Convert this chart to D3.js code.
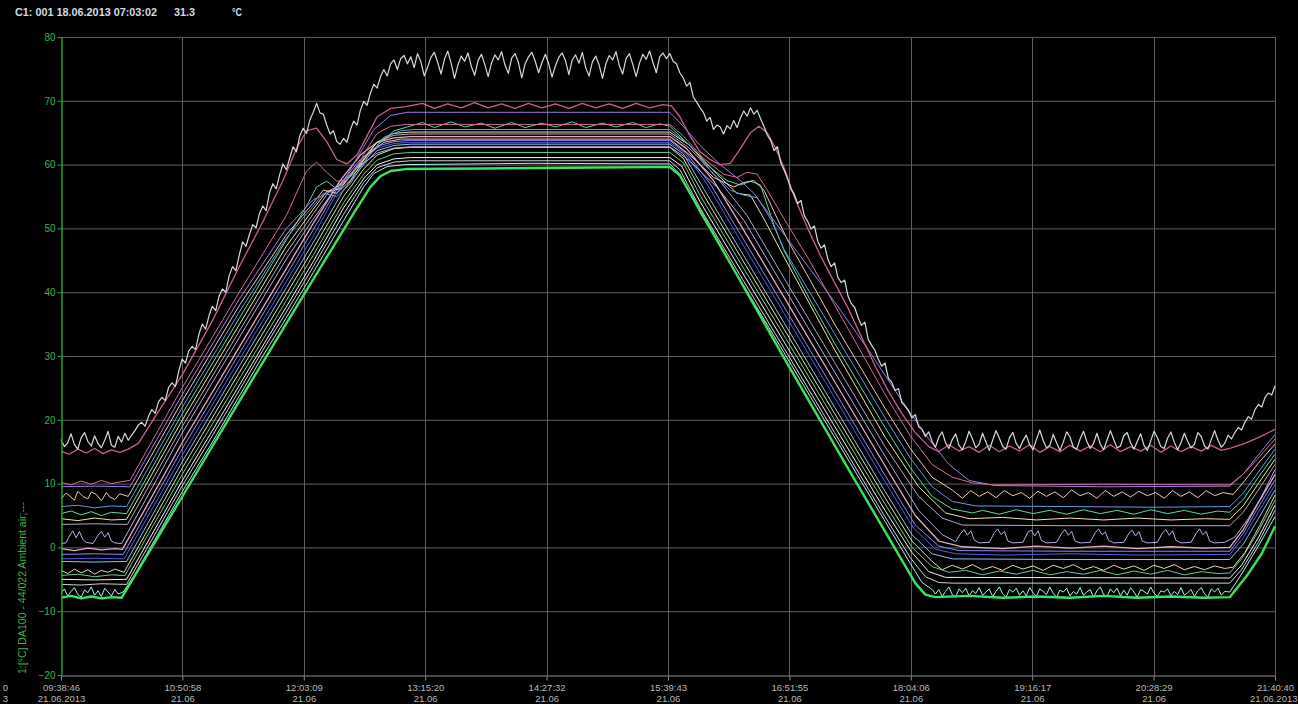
<!DOCTYPE html>
<html><head><meta charset="utf-8">
<script src="https://cdn.jsdelivr.net/npm/d3@7/dist/d3.min.js"></script>
<style>html,body{margin:0;padding:0;background:#000;overflow:hidden}</style>
</head><body>
<script>
// ---------- DATA ----------
const headerParts = ["C1: 001 18.06.2013 07:03:02", "31.3", "°C"];
const yAxisTitle = "1:[°C] DA100 - 44/022 Ambient air;---";
const tickLabels = ["09:38:46","10:50:58","12:03:09","13:15:20","14:27:32","15:39:43","16:51:55","18:04:06","19:16:17","20:28:29","21:40:40"];
const tickDates = ["21.06.2013","21.06","21.06","21.06","21.06","21.06","21.06","21.06","21.06","21.06","21.06.2013"];
const yTicks = [-20,-10,0,10,20,30,40,50,60,70,80];
const totalMinutes = 721.9; // 09:38:46 -> 21:40:40
// each series: [minutes since 09:38:46, °C]
const ambientGreen = [[0,-7.9],[6,-7.6],[12,-8.0],[18,-7.7],[24,-8.0],[30,-7.8],[36,-7.9],[72,7.9],[106,22.9],[140,37.7],[175,52.8],[184,56.5],[190,58.2],[196,59.0],[205,59.3],[250,59.4],[300,59.5],[350,59.6],[362,59.6],[368,58.3],[400,43.6],[433,28.3],[470,11.5],[500,-2.0],[508,-5.6],[514,-7.4],[520,-7.8],[540,-7.6],[560,-7.9],[580,-7.7],[600,-7.9],[620,-7.6],[640,-7.9],[660,-7.7],[680,-7.9],[695,-7.8],[705,-4.5],[714,-1.0],[721.9,3.3]];
const cyanProbe = [[0,-7.2],[2,-6.5],[4,-7.6],[6,-6.9],[8,-6.3],[10,-7.4],[12,-7.8],[14,-6.7],[16,-7.1],[18,-6.2],[20,-7.5],[22,-6.8],[24,-7.7],[26,-6.4],[28,-7.0],[30,-7.6],[32,-6.6],[34,-7.3],[37,-7.0],[44,-4.2],[58,2.2],[72,8.7],[90,16.5],[106,23.7],[120,30],[134,36],[150,43.1],[168,51.2],[180,56.5],[186,58.6],[194,59.7],[205,60.0],[280,60.2],[362,60.1],[368,58.5],[380,52.5],[404,41.9],[430,30.5],[460,17.3],[490,4.1],[505,-2.5],[512,-5.5],[518,-6.6],[520,-7.3],[522,-6.6],[524,-7.7],[526,-6.9],[528,-6.2],[530,-7.4],[532,-7.8],[534,-6.5],[536,-7.1],[538,-6.4],[540,-7.6],[542,-6.8],[544,-7.2],[546,-6.3],[548,-7.5],[550,-7.0],[552,-6.5],[554,-7.7],[556,-6.9],[558,-6.2],[560,-7.3],[562,-7.8],[564,-6.6],[566,-7.0],[568,-6.4],[570,-7.5],[572,-6.8],[574,-7.6],[576,-6.3],[578,-7.1],[580,-7.7],[582,-6.5],[584,-6.9],[586,-7.4],[588,-6.2],[590,-7.2],[592,-7.8],[594,-6.7],[596,-7.0],[598,-6.4],[600,-7.6],[602,-6.9],[604,-7.3],[606,-6.3],[608,-7.5],[610,-7.0],[612,-6.6],[614,-7.8],[616,-6.8],[618,-6.2],[620,-7.4],[622,-7.7],[624,-6.5],[626,-7.1],[628,-6.4],[630,-7.6],[632,-6.7],[634,-7.5],[636,-6.3],[638,-7.0],[640,-7.8],[642,-6.6],[644,-6.9],[646,-7.3],[648,-6.2],[650,-7.2],[652,-7.7],[654,-6.8],[656,-7.0],[658,-6.5],[660,-7.6],[662,-6.9],[664,-7.4],[666,-6.3],[668,-7.5],[670,-7.1],[672,-6.6],[674,-7.7],[676,-6.8],[678,-6.3],[680,-7.3],[682,-7.8],[684,-6.5],[686,-7.0],[688,-6.4],[690,-7.5],[692,-6.9],[695,-7.0],[702,-4.2],[712,0.2],[721.9,4.8]];
const probeGrey = [[0,-5.8],[12,-5.9],[24,-5.7],[39,-5.8],[72,9.6],[90,17.5],[106,24.6],[120,30.9],[134,36.9],[150,44],[168,52.2],[180,57.2],[188,59.5],[198,60.4],[208,60.6],[362,60.6],[368,59.2],[380,53.2],[404,42.6],[430,31.2],[460,18],[490,4.8],[505,-1.6],[514,-4.6],[522,-5.5],[530,-5.6],[695,-5.6],[702,-3.5],[712,0.8],[721.9,5.8]];
const probeWhite = [[0,-5.0],[20,-5.1],[39,-5.0],[72,10.4],[90,18.3],[106,25.4],[120,31.6],[134,37.7],[150,44.8],[168,53.2],[180,57.8],[188,60],[198,60.9],[208,61.1],[362,61.1],[369,59.8],[380,54.2],[404,43.6],[430,32.2],[460,19],[490,5.8],[506,-0.8],[516,-3.8],[526,-4.7],[695,-4.8],[702,-2.8],[712,1.5],[721.9,6.6]];
const probeGreen = [[0,-4.4],[10,-4.2],[20,-4.6],[30,-4.3],[38,-4.4],[72,11.4],[106,26.4],[134,38.7],[150,45.8],[168,54],[180,58.5],[188,60.7],[198,61.7],[208,61.9],[362,61.9],[370,60.3],[380,55.2],[404,44.6],[430,33.2],[460,20],[490,6.8],[506,0],[518,-3],[528,-3.9],[538,-3.6],[548,-4.3],[558,-3.7],[568,-4.2],[578,-3.6],[588,-4.3],[598,-3.8],[608,-4.2],[618,-3.6],[628,-4.3],[638,-3.7],[648,-4.2],[658,-3.6],[668,-4.3],[678,-3.8],[688,-4.1],[695,-4.0],[702,-1.8],[712,2.5],[721.9,7.4]];
const probeCream = [[0,-3.6],[4,-4.1],[8,-3.4],[12,-4.0],[16,-3.5],[20,-4.2],[24,-3.6],[28,-3.9],[32,-3.4],[37.5,-3.9],[72,12.4],[106,27.4],[134,39.7],[150,46.8],[168,55],[180,59.3],[188,61.5],[198,62.5],[208,62.7],[362,62.7],[370,61],[382,55.3],[404,45.6],[430,34.2],[460,21],[490,7.8],[506,1],[518,-2.2],[524,-3.5],[530,-2.8],[536,-3.4],[542,-2.7],[548,-3.5],[554,-3.0],[560,-3.6],[566,-2.8],[572,-3.4],[578,-2.9],[584,-3.6],[590,-2.8],[596,-3.3],[602,-2.7],[608,-3.5],[614,-3.0],[620,-3.6],[626,-2.8],[632,-3.4],[638,-2.9],[644,-3.6],[650,-2.8],[656,-3.3],[662,-2.7],[668,-3.5],[674,-3.0],[680,-3.5],[686,-2.9],[692,-3.3],[697,-3.1],[704,-0.8],[713,3.5],[721.9,8.2]];
const probeSky = [[0,-2.2],[20,-2.3],[39,-2.2],[72,13.4],[106,28.4],[134,40.7],[150,47.8],[168,56],[180,60],[188,62.2],[198,63.0],[208,63.2],[362,63.2],[370,61.7],[382,56.3],[404,46.6],[430,35.2],[460,22],[490,8.8],[506,2],[518,-1],[530,-1.8],[600,-1.9],[695,-1.9],[703,0.5],[712,4.5],[721.9,9.0]];
const probeBlue = [[0,-1.8],[20,-1.7],[37.5,-1.8],[72,14.4],[106,29.4],[134,41.7],[150,48.8],[166,56.5],[178,60.3],[188,62.6],[198,63.3],[208,63.5],[362,63.5],[371,61.8],[384,57],[404,48.1],[430,36.7],[460,23.5],[490,10.3],[507,3],[520,-0.3],[532,-1.0],[560,-1.2],[600,-1.0],[640,-1.2],[695,-1.1],[703,1.5],[712,5.5],[721.9,9.8]];
const probeLilac = [[0,-1.1],[20,-1.0],[37,-1.1],[72,15.4],[106,30.4],[134,42.7],[150,49.8],[166,57],[178,60.8],[188,62.9],[198,63.6],[208,63.8],[362,63.8],[372,61.8],[386,57],[404,49.1],[430,37.7],[460,24.5],[490,11.3],[508,3.5],[522,0.2],[534,-0.5],[600,-0.6],[695,-0.6],[703,2.2],[712,6.3],[721.9,10.6]];
const probeRose = [[0,-0.2],[8,-0.5],[16,-0.1],[24,-0.4],[32,-0.2],[36.5,-0.3],[72,16.4],[106,31.4],[134,43.7],[150,50.8],[166,57.5],[178,61.5],[188,63.5],[198,64.2],[208,64.4],[362,64.4],[372,62.5],[388,57.5],[404,50.6],[430,39.2],[460,26],[490,12.8],[508,5],[522,1],[536,0.1],[560,-0.2],[580,0.2],[600,-0.1],[620,0.2],[640,-0.2],[660,0.1],[680,-0.1],[695,0.0],[703,2.8],[712,7],[721.9,11.4]];
const probeLavender = [[0,0.6],[3,0.7],[5,1.8],[7,2.6],[9,1.5],[11,2.5],[13,1.2],[15,0.8],[19,0.6],[22,1.9],[24,2.5],[26,1.6],[28,2.3],[30,1.0],[32,0.7],[36,0.6],[72,17.9],[106,32.9],[134,45.2],[150,51.5],[164,56.5],[176,59.5],[188,61.8],[198,62.6],[208,62.8],[362,62.8],[372,61],[390,56.5],[406,51.3],[430,40.7],[460,27.5],[490,14.3],[510,5.8],[524,2],[532,0.9],[535,2.2],[537,2.8],[539,1.9],[541,2.6],[543,1.2],[546,0.7],[552,0.8],[555,2.3],[557,2.9],[559,2.0],[561,2.5],[563,1.0],[566,0.7],[572,0.8],[575,2.4],[577,2.7],[579,1.8],[581,2.6],[583,1.1],[586,0.7],[592,0.8],[595,2.2],[597,2.8],[599,1.9],[601,2.5],[603,1.0],[606,0.7],[612,0.8],[615,2.3],[617,2.9],[619,2.0],[621,2.4],[623,1.1],[626,0.7],[632,0.8],[635,2.2],[637,2.7],[639,1.8],[641,2.5],[643,1.0],[646,0.7],[652,0.8],[655,2.3],[657,2.8],[659,1.9],[661,2.6],[663,1.1],[666,0.7],[672,0.8],[675,2.2],[677,2.9],[679,2.0],[681,2.5],[683,1.0],[686,0.7],[692,0.8],[698,1.6],[706,4.5],[714,8],[721.9,12.2]];
const probeMauve = [[0,3.6],[20,3.7],[39.5,3.6],[72,18.9],[106,33.9],[134,46.2],[150,52.3],[160,56],[168,57],[178,60.5],[188,63.5],[198,64.6],[208,64.8],[362,64.8],[374,62.5],[390,58],[408,52],[430,42.2],[460,29],[490,15.8],[510,8],[524,4.6],[536,3.5],[600,3.4],[695,3.4],[703,5.5],[712,9],[721.9,13.0]];
const probeYellow = [[0,4.5],[10,4.2],[20,4.6],[30,4.3],[39,4.4],[72,19.9],[106,34.9],[134,47.2],[150,53],[158,55.8],[166,56.2],[176,59.5],[188,63.5],[198,64.9],[208,65.1],[362,65.1],[374,63],[390,58.5],[402,55.5],[410,55.2],[418,51.5],[430,45.5],[460,31],[490,17.3],[510,9.5],[526,5.4],[540,4.5],[560,4.7],[580,4.3],[600,4.6],[620,4.3],[640,4.6],[660,4.3],[680,4.5],[695,4.4],[703,6.5],[712,10],[721.9,13.8]];
const probeMint = [[0,5.3],[6,5.7],[12,5.1],[18,5.6],[24,5.0],[30,5.5],[39,5.3],[72,20.9],[106,35.9],[134,48.2],[146,53.5],[152,56.5],[158,57.4],[163,56.4],[168,57.2],[176,59],[188,63],[198,65.3],[206,65.9],[215,66.6],[222,65.8],[232,66.7],[240,65.9],[250,66.5],[258,65.7],[268,66.6],[276,65.8],[286,66.5],[294,65.9],[304,66.7],[312,65.8],[322,66.5],[330,65.9],[340,66.6],[348,65.8],[356,66.4],[362,66.0],[372,63.5],[384,60],[396,57.5],[404,56.8],[410,57.4],[416,56.8],[424,50.5],[430,46.5],[445,39],[460,32],[475,25.4],[490,18.8],[505,12.5],[518,8],[530,6],[542,5.4],[548,5.8],[558,5.2],[568,5.9],[578,5.3],[588,5.8],[598,5.2],[608,5.9],[618,5.3],[628,5.8],[638,5.2],[648,5.9],[658,5.3],[668,5.8],[678,5.2],[688,5.7],[695,5.5],[703,7.5],[712,11],[721.9,14.6]];
const probeSteel = [[0,6.4],[10,6.6],[20,6.2],[30,6.5],[39,6.4],[72,21.9],[106,36.9],[134,48.5],[150,53.5],[156,55.5],[164,55],[172,57],[182,61],[192,64.3],[202,65.3],[210,65.5],[362,65.5],[374,63],[388,58.5],[398,56],[406,55.2],[414,54.8],[422,51.5],[430,46.7],[445,40.1],[460,33.5],[475,26.9],[490,20.3],[505,14],[518,9.5],[530,7.2],[544,6.5],[600,6.4],[650,6.3],[695,6.4],[703,8.5],[712,11.8],[721.9,15.4]];
const probeSalmon = [[0,7.6],[3,8.5],[5,8.1],[8,7.4],[10,8.8],[13,8.0],[16,7.6],[18,8.7],[21,8.3],[24,7.3],[27,8.6],[29,7.9],[32,7.5],[35,8.4],[40,8.0],[72,22.9],[106,37.9],[134,49],[150,54],[156,56],[164,55.5],[172,57.5],[182,61.5],[192,63.5],[202,64],[362,64],[374,61.5],[388,58],[400,56.5],[406,57.2],[412,57.5],[418,56],[426,51.5],[432,48.2],[445,42.1],[460,35],[475,28.4],[490,21.8],[505,15.5],[518,11],[530,9],[536,7.7],[541,8.9],[546,8.0],[551,8.7],[556,7.8],[561,8.9],[566,8.1],[571,8.6],[576,7.7],[581,8.8],[586,8.0],[591,8.7],[596,7.8],[601,9.0],[606,8.1],[611,8.6],[616,7.7],[621,8.9],[626,8.0],[631,8.7],[636,7.9],[641,8.8],[646,8.1],[651,8.6],[656,7.7],[661,8.9],[666,8.0],[671,8.7],[676,7.8],[681,8.9],[686,8.1],[691,8.6],[697,8.3],[704,10.5],[712,13.2],[721.9,16.2]];
const probePurple = [[0,9.5],[20,9.6],[41,9.5],[72,23.9],[106,38.9],[134,50],[150,54.5],[158,55.5],[166,56.5],[176,61],[186,65.5],[196,67.7],[206,68.2],[362,68.2],[370,66],[380,63],[392,60],[404,57.5],[412,55.5],[433,48],[460,38.5],[480,31],[500,23],[516,17],[528,13],[540,10.5],[555,9.7],[620,9.5],[695,9.6],[703,11.5],[712,14.5],[721.9,17.7]];
const probeCrimson = [[0,10.2],[6,9.8],[12,10.4],[18,9.9],[24,10.5],[30,10.0],[36,10.3],[41,10.5],[72,25],[106,40],[134,52],[146,59],[152,60.4],[158,58.8],[164,57.4],[170,57.6],[176,59.6],[182,62.5],[188,64.9],[196,66],[205,66.3],[362,66.3],[370,64.5],[382,61],[394,58.5],[402,58],[408,58.8],[414,58.5],[420,56],[430,51.5],[445,45],[460,38],[475,31],[490,24],[505,17.5],[518,13],[530,11],[542,10.1],[555,9.8],[620,9.9],[695,9.8],[703,11.5],[712,14],[721.9,17]];
const probePink = [[0,15.1],[5,14.6],[10,15.4],[15,14.8],[20,15.5],[25,14.7],[30,15.3],[35,14.9],[40,15.4],[46,16.3],[56,20.5],[72,27],[90,35.5],[106,44],[120,51],[132,57.5],[140,62.5],[146,65.3],[152,65.7],[158,63.6],[164,60.8],[170,60.1],[176,61.5],[182,64.5],[188,67.5],[196,68.8],[205,69.1],[215,69.6],[222,68.8],[230,69.5],[238,68.9],[246,69.7],[254,68.9],[262,69.5],[270,68.8],[278,69.6],[286,68.9],[294,69.5],[302,68.8],[310,69.6],[318,68.9],[326,69.5],[334,68.8],[342,69.6],[350,68.9],[358,69.4],[363,69.2],[368,67.5],[374,64.5],[380,62],[386,60.8],[392,60.0],[398,60.2],[404,62.5],[410,65],[415,66],[420,65],[425,62.5],[430,59.5],[436,55],[444,50],[452,45.5],[460,41.5],[468,37.5],[476,33],[484,28.5],[492,24.5],[500,21],[508,18],[516,15.8],[522,15.0],[528,16.1],[534,15.1],[540,15.8],[546,14.9],[552,16.0],[558,15.0],[564,15.9],[570,15.1],[576,16.1],[582,14.9],[588,15.8],[594,15.0],[600,16.0],[606,15.1],[612,15.9],[618,15.0],[624,16.1],[630,15.0],[636,15.8],[642,15.1],[648,16.0],[654,14.9],[660,15.9],[666,15.0],[672,15.8],[678,15.1],[684,16.0],[690,15.2],[696,15.6],[704,16.3],[712,17.2],[721.9,18.5]];
const probeTop = [[0,16.9],[2,15.8],[4,16.4],[6,17.8],[8,16.1],[10,15.4],[12,17.2],[14,18.0],[16,16.6],[18,15.9],[20,17.5],[22,16.3],[24,15.6],[26,16.8],[28,18.2],[30,16.0],[32,15.7],[34,17.4],[36,16.5],[38,17.9],[40,16.8],[42,17.6],[44,18.3],[46,19.2],[48,19.6],[50,19.0],[52,20.5],[54,21.6],[56,21.0],[58,22.8],[60,23.5],[62,23.0],[64,25.1],[66,25.8],[68,25.2],[70,27.6],[72,29.5],[74,28.9],[76,30.8],[78,31.5],[80,31.0],[82,33.4],[84,35.0],[86,34.2],[88,36.3],[90,37.8],[92,37.1],[94,39.4],[96,40.5],[98,40.0],[100,42.6],[102,44.0],[104,43.4],[106,45.8],[108,47.9],[110,47.2],[112,49.0],[114,50.6],[116,50.1],[118,52.3],[120,53.5],[122,52.8],[124,55.6],[126,57.0],[128,56.2],[130,58.4],[132,60.1],[134,59.2],[136,61.0],[138,62.8],[140,62.0],[142,64.5],[144,65.7],[146,64.9],[148,67.0],[150,68.2],[152,69.6],[154,68.1],[156,67.9],[158,66.2],[160,64.8],[162,65.3],[164,63.6],[166,63.2],[168,64.1],[170,63.5],[172,65.4],[174,66.8],[176,66.2],[178,68.5],[180,69.9],[182,69.3],[184,71.2],[186,72.6],[188,72.0],[190,73.8],[192,74.9],[194,73.9],[196,75.8],[198,76.4],[200,74.9],[202,76.6],[204,77.1],[206,75.8],[208,76.9],[210,75.2],[212,77.4],[214,76.1],[216,73.9],[218,75.3],[220,76.8],[222,77.6],[224,76.0],[226,74.2],[228,76.5],[230,77.8],[232,75.9],[234,73.5],[236,75.6],[238,77.0],[240,76.2],[242,77.5],[244,75.4],[246,74.0],[248,76.3],[250,77.3],[252,75.7],[254,73.8],[256,75.9],[258,77.2],[260,76.4],[262,77.7],[264,75.6],[266,74.3],[268,76.7],[270,77.4],[272,76.0],[274,73.6],[276,75.8],[278,76.9],[280,77.6],[282,76.2],[284,74.4],[286,76.0],[288,77.3],[290,75.8],[292,73.7],[294,75.5],[296,76.8],[298,77.5],[300,76.3],[302,74.1],[304,76.4],[306,77.2],[308,75.9],[310,77.6],[312,75.2],[314,73.9],[316,76.1],[318,77.0],[320,75.6],[322,73.5],[324,75.8],[326,77.1],[328,76.4],[330,77.7],[332,75.5],[334,74.2],[336,76.6],[338,77.4],[340,75.7],[342,73.8],[344,75.9],[346,77.3],[348,76.5],[350,77.8],[352,76.0],[354,74.4],[356,76.9],[358,77.5],[360,76.6],[362,77.4],[364,76.2],[366,75.8],[368,74.4],[370,73.6],[372,72.3],[374,72.9],[376,70.6],[378,69.8],[380,68.9],[382,68.2],[384,66.8],[386,67.4],[388,65.5],[390,66.2],[392,65.9],[394,64.8],[396,66.1],[398,65.6],[400,66.9],[402,65.8],[404,67.3],[406,68.4],[408,67.6],[410,68.9],[412,67.9],[414,68.5],[416,67.2],[418,66.0],[420,64.6],[422,63.8],[424,62.2],[426,62.8],[428,60.3],[430,59.1],[432,57.8],[434,56.2],[436,55.4],[438,53.9],[440,54.4],[442,52.0],[444,51.1],[446,49.9],[448,50.4],[450,48.0],[452,46.9],[454,47.4],[456,45.2],[458,44.0],[460,44.6],[462,42.3],[464,41.5],[466,41.9],[468,39.4],[470,38.2],[472,37.6],[474,36.0],[476,34.8],[478,35.3],[480,32.6],[482,31.7],[484,30.9],[486,29.5],[488,28.4],[490,28.9],[492,26.5],[494,25.9],[496,24.6],[498,24.9],[500,22.7],[502,22.1],[504,21.4],[506,20.3],[508,20.8],[510,18.9],[512,18.5],[514,17.4],[516,18.1],[518,16.6],[520,15.7],[522,17.3],[524,18.1],[526,16.4],[528,15.5],[530,16.9],[532,17.8],[534,16.0],[536,15.3],[538,16.6],[540,18.2],[542,17.0],[544,15.6],[546,16.2],[548,17.9],[550,16.5],[552,15.2],[554,16.8],[556,18.3],[558,17.1],[560,15.8],[562,15.4],[564,17.2],[566,18.0],[568,16.3],[570,15.5],[572,16.7],[574,17.6],[576,16.1],[578,15.3],[580,16.9],[582,18.4],[584,16.8],[586,15.6],[588,16.0],[590,17.7],[592,16.4],[594,15.2],[596,16.5],[598,18.1],[600,17.3],[602,15.7],[604,15.4],[606,17.0],[608,18.2],[610,16.6],[612,15.5],[614,16.3],[616,17.9],[618,16.2],[620,15.3],[622,16.8],[624,18.3],[626,16.9],[628,15.6],[630,15.9],[632,17.5],[634,18.0],[636,16.4],[638,15.4],[640,16.6],[642,17.8],[644,16.0],[646,15.2],[648,16.7],[650,18.2],[652,17.2],[654,15.8],[656,15.5],[658,17.1],[660,18.1],[662,16.5],[664,15.3],[666,16.4],[668,17.9],[670,16.6],[672,15.6],[674,16.2],[676,18.0],[678,17.4],[680,15.9],[682,15.4],[684,16.9],[686,18.3],[688,16.8],[690,15.7],[692,16.3],[694,17.6],[696,17.0],[698,18.0],[700,18.8],[702,18.4],[704,19.6],[706,20.5],[708,20.1],[710,21.6],[712,22.4],[714,22.0],[716,23.5],[718,24.2],[720,23.9],[721.9,25.3]];

// ---------- STYLES ----------
const seriesStyles = [
  {data: probeGrey, color: "#cfcfcf", w: 1},
  {data: probeWhite, color: "#f2f2f2", w: 1},
  {data: probeGreen, color: "#6cc88c", w: 1},
  {data: probeCream, color: "#e4dca0", w: 1},
  {data: probeSky, color: "#8cc0f0", w: 1},
  {data: probeBlue, color: "#5a5ae0", w: 1},
  {data: probeLilac, color: "#8c8cf8", w: 1},
  {data: probeRose, color: "#e8a8c4", w: 1.3},
  {data: probeLavender, color: "#b4aee6", w: 1},
  {data: probeMauve, color: "#b4a6c8", w: 1},
  {data: probeYellow, color: "#eee6a6", w: 1},
  {data: probeMint, color: "#5ed8a0", w: 1},
  {data: probeSteel, color: "#6898e0", w: 1},
  {data: probeSalmon, color: "#f0c8b0", w: 1},
  {data: probePurple, color: "#9a7ee6", w: 1},
  {data: probeCrimson, color: "#d06c92", w: 1},
  {data: cyanProbe, color: "#a8f0f0", w: 1},
  {data: ambientGreen, color: "#3ee05c", w: 2.4},
  {data: probePink, color: "#c8608a", w: 1.3},
  {data: probeTop, color: "#d8d8d8", w: 1.2}
];

const W = 1298, H = 704;
const L = 61, R = 1275, T = 37, B = 675;
const FONT = "'Liberation Sans', Arial, sans-serif";

const svg = d3.select("body").append("svg").attr("width", W).attr("height", H)
  .style("background", "#000").style("display", "block");

const x = d3.scaleLinear().domain([0, totalMinutes]).range([L, R]);
const y = d3.scaleLinear().domain([-20, 80]).range([B, T]);
const tickMinutes = tickLabels.map((_, i) => i * totalMinutes / (tickLabels.length - 1));

// grid
const grid = svg.append("g");
grid.selectAll("line.h").data(yTicks.filter(v => v !== -20)).join("line")
  .attr("x1", L).attr("x2", R).attr("y1", d => y(d) + 0.5).attr("y2", d => y(d) + 0.5)
  .attr("stroke", "#5e5e5e").attr("stroke-width", 1);
grid.selectAll("line.v").data(tickMinutes.slice(1)).join("line")
  .attr("x1", d => Math.round(x(d)) + 0.5).attr("x2", d => Math.round(x(d)) + 0.5)
  .attr("y1", T).attr("y2", B)
  .attr("stroke", "#5e5e5e").attr("stroke-width", 1);

// series
const line = d3.line().x(d => x(d[0])).y(d => y(d[1]));
const plot = svg.append("g");
seriesStyles.forEach(s => {
  plot.append("path").datum(s.data).attr("d", line)
    .attr("fill", "none").attr("stroke", s.color).attr("stroke-width", s.w)
    .attr("stroke-linejoin", "round");
});

// x axis
const xAxis = d3.axisBottom(x).tickValues(tickMinutes).tickFormat((d, i) => tickLabels[i])
  .tickSize(5).tickSizeOuter(0).tickPadding(0);
const gx = svg.append("g").attr("transform", `translate(0,${B + 0.5})`).call(xAxis);
gx.select(".domain").attr("stroke", "#8c8c8c");
gx.selectAll(".tick line").attr("stroke", "#8c8c8c");
gx.selectAll(".tick text").attr("fill", "#b8b8b8").style("font-family", FONT).style("font-size", "9.5px")
  .attr("y", 15.5).attr("dy", null);
gx.selectAll(".tick").append("text")
  .attr("y", 26.5).attr("fill", "#b8b8b8")
  .attr("text-anchor", (d, i) => i === tickDates.length - 1 ? "end" : "middle")
  .attr("x", (d, i) => i === tickDates.length - 1 ? 22 : 0)
  .style("font-family", FONT).style("font-size", "9.5px")
  .text((d, i) => tickDates[i]);

// y axis
const yAxis = d3.axisLeft(y).tickValues(yTicks).tickSize(4).tickSizeOuter(0).tickPadding(2);
const gy = svg.append("g").attr("transform", `translate(${L + 0.5},0)`).call(yAxis);
gy.select(".domain").attr("stroke", "#2c9c3c").attr("stroke-width", 1.5);
gy.selectAll(".tick line").attr("stroke", "#2c9c3c");
gy.selectAll(".tick text").attr("fill", "#3fb24c").style("font-family", FONT).style("font-size", "10px");

// y axis title
svg.append("text").attr("transform", `translate(26,${B - 1}) rotate(-90)`)
  .attr("fill", "#3fb24c").style("font-family", FONT).style("font-size", "10.5px")
  .attr("textLength", 172).attr("lengthAdjust", "spacingAndGlyphs")
  .text(yAxisTitle);

// cut-off labels at the far left
svg.append("text").attr("x", 8).attr("y", 691).attr("text-anchor", "end")
  .attr("fill", "#b8b8b8").style("font-family", FONT).style("font-size", "9.5px").text("0");
svg.append("text").attr("x", 8).attr("y", 702).attr("text-anchor", "end")
  .attr("fill", "#b8b8b8").style("font-family", FONT).style("font-size", "9.5px").text("3");

// header
const hdrX = [15, 174, 232], hdrLen = [142, 21, 10];
headerParts.forEach((t, i) => {
  svg.append("text").attr("x", hdrX[i]).attr("y", 16)
    .attr("fill", "#d6dae4").style("font-family", FONT).style("font-size", "11px").style("font-weight", "bold")
    .attr("textLength", hdrLen[i]).attr("lengthAdjust", "spacingAndGlyphs")
    .text(t);
});
</script>
</body></html>
